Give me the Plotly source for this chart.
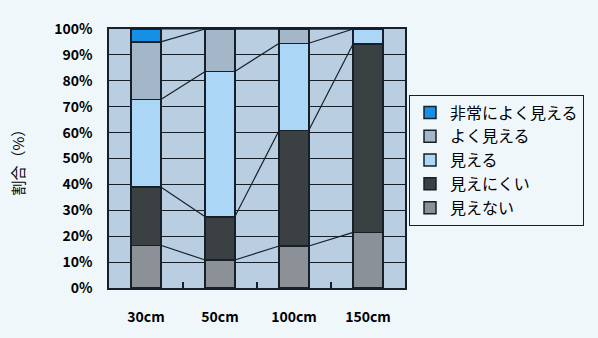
import plotly.graph_objects as go
import numpy as np

# Viewing distance categories
categories = ["30cm", "50cm", "100cm", "150cm"]

# Share of answers (%) per visibility rating, stacked from bottom to top
mienai = [16.5, 10.8, 16.2, 21.5]          # 見えない
mienikui = [22.5, 16.7, 44.7, 72.8]        # 見えにくい
mieru = [33.8, 56.1, 33.6, 5.7]            # 見える
yoku_mieru = [22.2, 16.4, 5.5, 0.0]        # よく見える
hijouni = [5.0, 0.0, 0.0, 0.0]             # 非常によく見える

series = [
    ("見えない", mienai, "#8b9196"),
    ("見えにくい", mienikui, "#3b4042"),
    ("見える", mieru, "#acd6f5"),
    ("よく見える", yoku_mieru, "#a3b7c8"),
    ("非常によく見える", hijouni, "#1590e6"),
]

FONT = "Noto Sans CJK JP"
PAGE_BG = "#eff7fb"
PLOT_BG = "#b9cfe1"
LINE = "#16202a"
TEXT = "#000000"
BAR_W = 0.4

x = np.arange(len(categories))
fig = go.Figure()

for name, vals, color in series:
    fig.add_trace(go.Bar(
        x=x, y=vals, name=name, width=BAR_W,
        marker=dict(color=color, line=dict(color=LINE, width=1.5)),
    ))

# Series lines joining the top of each segment between neighbouring bars
cum = np.zeros(len(categories))
for name, vals, color in series:
    cum = cum + np.array(vals)
    xs, ys = [], []
    for i in range(len(categories) - 1):
        xs += [x[i] + BAR_W / 2, x[i + 1] - BAR_W / 2, None]
        ys += [cum[i], cum[i + 1], None]
    fig.add_trace(go.Scatter(
        x=xs, y=ys, mode="lines", showlegend=False, hoverinfo="skip",
        line=dict(color=LINE, width=1.2),
    ))

fig.update_layout(
    width=598, height=338,
    barmode="stack",
    paper_bgcolor=PAGE_BG,
    plot_bgcolor=PLOT_BG,
    margin=dict(l=109, r=193, t=29, b=48),
    font=dict(family=FONT, color=TEXT),
    showlegend=True,
    legend=dict(
        traceorder="reversed",
        x=(409 - 109) / 296, y=0.747, xanchor="left", yanchor="top",
        bgcolor=PAGE_BG, bordercolor=LINE, borderwidth=1,
        font=dict(family=FONT, size=16, color=TEXT),
        itemwidth=30,
    ),
    xaxis=dict(
        range=[-0.5, len(categories) - 0.5],
        tickvals=x, ticktext=categories, ticks="",
        tickfont=dict(family=FONT, size=14, weight="bold", color=TEXT),
        ticklabelstandoff=15,
        showgrid=False, zeroline=False,
        showline=True, linecolor=LINE, linewidth=1.5, mirror=True,
        minor=dict(tickvals=[0.5, 1.5, 2.5], ticks="inside", ticklen=6,
                   tickcolor=LINE, tickwidth=1.5, showgrid=False),
    ),
    yaxis=dict(
        range=[0, 100], dtick=10, ticksuffix="%",
        tickfont=dict(family=FONT, size=14, weight="bold", color=TEXT),
        ticklabelstandoff=12,
        showgrid=True, gridcolor=LINE, gridwidth=1.2,
        zeroline=False,
        showline=True, linecolor=LINE, linewidth=1.5, mirror=True,
    ),
    annotations=[dict(
        text="割合（%）", textangle=-90,
        xref="paper", yref="paper",
        x=-(109 - 17) / 296, y=0.5,
        xanchor="center", yanchor="middle",
        showarrow=False,
        font=dict(family=FONT, size=15, color=TEXT),
    )],
)

fig.write_html("out.html")
